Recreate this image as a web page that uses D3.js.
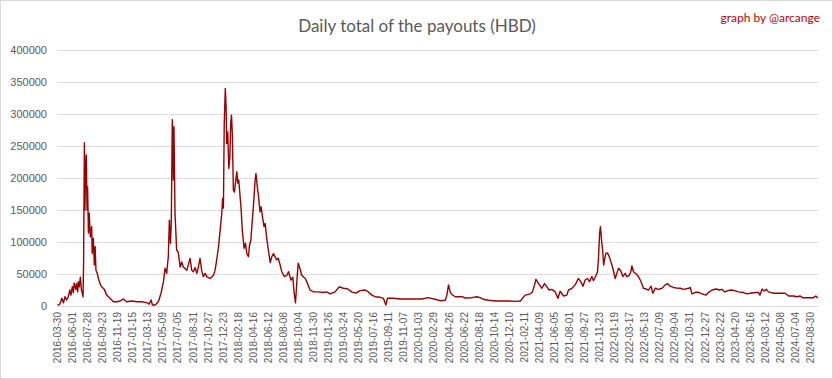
<!DOCTYPE html>
<html lang="en">
<head>
	<title>Daily total of the payouts (HBD)</title>
	<script src="https://d3js.org/d3.v7.min.js" charset="utf-8"></script>
	<style>
		body {
			margin: 0;
			background: #ffffff;
		}
		text {
			font-family: "Liberation Sans", sans-serif;
			fill: #595959;
		}
	</style>
</head>
<body>
	<div id="chart"></div>
<script>
	// Category index of each reading (one category per day, with gaps) and the payout read at it
	var dayIndex = [
		0, 9, 16, 22, 28, 34, 40, 46, 50, 55, 59, 62, 68, 71, 75, 77, 81, 85, 89, 92,
		95, 97, 100, 102, 105, 107, 110, 112, 115, 118, 122, 127, 129, 133, 137, 140, 143, 148, 152, 158,
		164, 174, 183, 195, 208, 220, 233, 245, 257, 276, 295, 313, 332, 341, 348, 353, 363, 375, 385, 394,
		400, 406, 412, 416, 420, 423, 427, 431, 433, 437, 443, 449, 456, 462, 468, 481, 493, 499, 505, 512,
		518, 524, 530, 536, 542, 549, 555, 567, 580, 586, 592, 598, 605, 611, 614, 617, 620, 624, 627, 629,
		633, 637, 641, 644, 647, 650, 654, 658, 663, 667, 670, 674, 679, 683, 687, 694, 699, 704, 710, 714,
		719, 724, 728, 735, 738, 743, 747, 753, 757, 762, 768, 772, 778, 784, 791, 797, 803, 815, 821, 828,
		834, 843, 853, 859, 868, 875, 880, 885, 890, 895, 900, 908, 921, 927, 939, 952, 970, 989, 1001, 1014,
		1032, 1048, 1063, 1078, 1094, 1110, 1125, 1144, 1156, 1169, 1181, 1200, 1212, 1221, 1227, 1249, 1274, 1311, 1355, 1379,
		1404, 1423, 1442, 1448, 1454, 1460, 1466, 1479, 1504, 1516, 1541, 1559, 1572, 1584, 1603, 1628, 1677, 1702, 1721, 1729,
		1739, 1758, 1766, 1774, 1779, 1789, 1801, 1811, 1820, 1828, 1838, 1851, 1861, 1869, 1882, 1894, 1900, 1913, 1925, 1937,
		1946, 1954, 1962, 1971, 1978, 1987, 1993, 2003, 2008, 2012, 2016, 2019, 2023, 2027, 2031, 2034, 2039, 2045, 2052, 2058,
		2065, 2074, 2080, 2086, 2095, 2102, 2111, 2117, 2126, 2132, 2136, 2142, 2152, 2160, 2169, 2179, 2189, 2198, 2207, 2214,
		2223, 2235, 2248, 2260, 2268, 2278, 2291, 2303, 2316, 2328, 2347, 2353, 2359, 2372, 2384, 2397, 2412, 2421, 2434, 2449,
		2461, 2471, 2481, 2493, 2505, 2518, 2533, 2551, 2564, 2576, 2595, 2607, 2612, 2620, 2628, 2636, 2644, 2654, 2663, 2688,
		2706, 2719, 2737, 2750, 2762, 2771, 2793, 2811, 2820, 2828
	];
	var payouts = [
		1000, 3000, 12000, 5000, 14500, 9400, 14500, 25000, 17000, 30000, 21000, 36000, 26000, 35000, 22000, 38000, 30000, 45000, 25000, 20000,
		14500, 67000, 255000, 150000, 223000, 236000, 150000, 186000, 114000, 145000, 108000, 124000, 82000, 106000, 64000, 93000, 56000, 51000, 43000, 35000,
		30000, 26000, 17000, 12000, 6700, 6700, 7800, 11000, 6700, 7800, 6700, 6700, 5200, 3000, 9400, 1500, 1500, 6700, 20000, 38000,
		59000, 51000, 77000, 134000, 98000, 129000, 291000, 197000, 280000, 145000, 87500, 84000, 61000, 69000, 61000, 56000, 74500, 56000, 53600, 60000,
		51000, 61000, 74500, 56000, 46000, 51000, 46000, 43000, 48000, 56000, 72000, 90000, 119000, 145000, 168000, 153000, 285000, 340000, 311000, 254000,
		272000, 215000, 233000, 285000, 298000, 270000, 181000, 178000, 197000, 210000, 192000, 197000, 171000, 150000, 119000, 90000, 98000, 82000, 77000, 95000,
		103000, 132000, 153000, 197000, 207000, 186000, 173000, 147000, 155000, 140000, 124000, 129000, 106000, 87500, 68000, 77000, 82000, 72000, 74500, 64000,
		53600, 46000, 48000, 53600, 40600, 45000, 20000, 5000, 38000, 67000, 61000, 48000, 43000, 38000, 25000, 22000, 22000, 21000, 22000, 19000,
		22000, 30000, 27700, 27000, 22000, 20000, 24000, 25000, 22000, 17000, 14500, 13600, 12000, 1500, 12000, 12000, 11000, 11000, 11000, 13000,
		10500, 8300, 9000, 17000, 33000, 22000, 18000, 14500, 14500, 12500, 13000, 14500, 13000, 10500, 9000, 7800, 7800, 7300, 7800, 12000,
		17000, 19000, 22000, 33000, 41700, 35000, 27700, 35000, 30000, 25000, 26000, 22000, 12000, 23000, 15600, 17000, 25000, 27700, 33000, 43000,
		38000, 31000, 40600, 43000, 38000, 46000, 39500, 48000, 53600, 77000, 114500, 124000, 103000, 87500, 64000, 72000, 82000, 83000, 77000, 69000,
		59000, 43000, 51000, 59000, 54700, 46000, 51000, 46000, 48000, 53600, 62500, 53600, 50000, 46000, 39000, 27700, 26500, 25000, 31000, 20000,
		27700, 26000, 27700, 33000, 35000, 31000, 29000, 28000, 27700, 26000, 27700, 29000, 19000, 21400, 21400, 19000, 17000, 21400, 25000, 26500,
		25000, 26000, 22000, 24000, 25000, 24000, 22000, 21000, 19000, 20000, 21000, 21000, 17000, 26500, 23400, 26000, 22000, 21000, 20000, 20000,
		20000, 15600, 15600, 14500, 15600, 13000, 13000, 13000, 15600, 12500
	];
	var dayCount = 2829;

	// Axis labels
	var dateLabels = [
		"2016-03-30", "2016-06-01", "2016-07-28", "2016-09-23", "2016-11-19", "2017-01-15", "2017-03-13",
		"2017-05-09", "2017-07-05", "2017-08-31", "2017-10-27", "2017-12-23", "2018-02-18", "2018-04-16",
		"2018-06-12", "2018-08-08", "2018-10-04", "2018-11-30", "2019-01-26", "2019-03-24", "2019-05-20",
		"2019-07-16", "2019-09-11", "2019-11-07", "2020-01-03", "2020-02-29", "2020-04-26", "2020-06-22",
		"2020-08-18", "2020-10-14", "2020-12-10", "2021-02-11", "2021-04-09", "2021-06-05", "2021-08-01",
		"2021-09-27", "2021-11-23", "2022-01-19", "2022-03-17", "2022-05-13", "2022-07-09", "2022-09-04",
		"2022-10-31", "2022-12-27", "2023-02-22", "2023-04-20", "2023-06-16", "2024-03-12", "2024-05-08",
		"2024-07-04", "2024-08-30"
	];
	var labelStep = 56;
	var yTicks = [0, 50000, 100000, 150000, 200000, 250000, 300000, 350000, 400000];

	var w = 833;
	var h = 379;
	// plot area (note: "top" is reserved by the window object)
	var plotLeft = 57.5, plotRight = 818, plotTop = 50, plotBottom = 306;

	var points = dayIndex.map(function(d, i) {
		return { day: d, value: payouts[i] };
	});

	var xScale = d3.scaleLinear()
		.domain([0, dayCount - 1])
		.range([plotLeft, plotRight]);

	var yScale = d3.scaleLinear()
		.domain([0, 400000])
		.range([plotBottom, plotTop]);

	var svg = d3.select("#chart")
		.append("svg")
		.attr("width", w)
		.attr("height", h);

	// chart frame
	svg.append("rect")
		.attr("x", 0.5)
		.attr("y", 0.5)
		.attr("width", w - 1)
		.attr("height", h - 1)
		.attr("fill", "#ffffff")
		.attr("stroke", "#d9d9d9");

	// gridlines
	svg.selectAll("line.grid")
		.data(yTicks)
		.enter()
		.append("line")
		.attr("class", "grid")
		.attr("x1", plotLeft)
		.attr("x2", plotRight)
		.attr("y1", function(d) { return Math.round(yScale(d)) + 0.5; })
		.attr("y2", function(d) { return Math.round(yScale(d)) + 0.5; })
		.attr("stroke", "#d9d9d9")
		.attr("stroke-width", 1);

	// y-axis labels
	svg.selectAll("text.ylab")
		.data(yTicks)
		.enter()
		.append("text")
		.attr("class", "ylab")
		.attr("x", 47)
		.attr("y", function(d) { return yScale(d) + 4; })
		.attr("text-anchor", "end")
		.attr("font-size", "11px")
		.text(function(d) { return d; });

	// x-axis labels, one every 56 days
	svg.selectAll("text.xlab")
		.data(dateLabels)
		.enter()
		.append("text")
		.attr("class", "xlab")
		.attr("text-anchor", "end")
		.attr("font-size", "10px")
		.attr("transform", function(d, i) {
			return "translate(" + (xScale(i * labelStep) + 3.5) + "," + 312 + ") rotate(-90)";
		})
		.text(function(d) { return d; });

	// the payouts line
	var line = d3.line()
		.x(function(d) { return xScale(d.day); })
		.y(function(d) { return yScale(d.value); });

	svg.append("path")
		.datum(points)
		.attr("d", line)
		.attr("fill", "none")
		.attr("stroke", "#990000")
		.attr("stroke-width", 1.4)
		.attr("stroke-linejoin", "round");

	// title
	svg.append("text")
		.attr("x", 417)
		.attr("y", 32)
		.attr("text-anchor", "middle")
		.attr("font-size", "17px")
		.style("font-family", "Lato, sans-serif")
		.text("Daily total of the payouts (HBD)");

	svg.append("text")
		.attr("x", 820)
		.attr("y", 22)
		.attr("text-anchor", "end")
		.attr("font-size", "12px")
		.style("font-family", "Lato, sans-serif")
		.style("fill", "#c00000")
		.text("graph by @arcange");
</script>
</body>
</html>
